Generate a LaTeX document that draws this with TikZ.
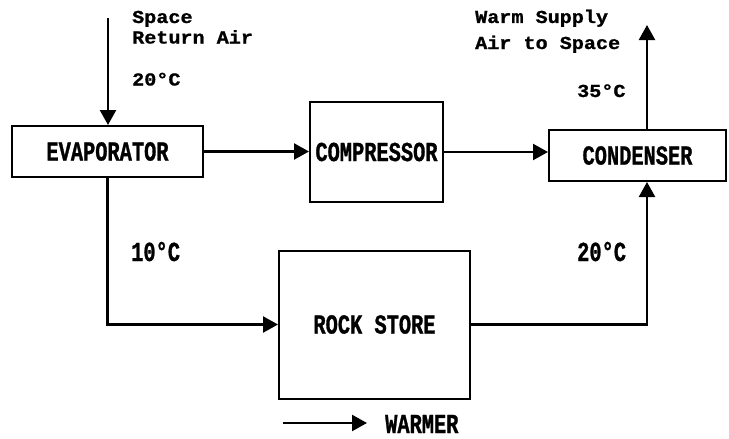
\documentclass[tikz,border=0pt]{standalone}
\usepackage{fontspec}
\usetikzlibrary{arrows.meta}
\newfontfamily\smallmono{Liberation Mono}[FakeStretch=1.1,FakeBold=1]
\newfontfamily\tallmono{Liberation Mono}[FakeStretch=0.74,FakeBold=1]

\tikzset{
  box/.style={draw, line width=2pt, inner sep=0pt,
    font=\tallmono\bfseries\fontsize{27.5}{30}\selectfont},
  note/.style={anchor=base west, inner sep=0pt,
    font=\smallmono\bfseries\fontsize{18.3}{21}\selectfont},
  tallnote/.style={anchor=base west, inner sep=0pt,
    font=\tallmono\bfseries\fontsize{27.5}{30}\selectfont},
  flow/.style={line width=2.3pt, -{Triangle[length=15pt,width=16pt]}}
}

\begin{document}
\begin{tikzpicture}[x=1pt,y=-1pt]
\useasboundingbox (0,0) rectangle (729,439);
\node[box, minimum width=191pt, minimum height=51pt] (evap) at (107.5,151.5) {EVAPORATOR};
\node[box, minimum width=133pt, minimum height=100pt] (comp) at (376.5,152) {COMPRESSOR};
\node[box, minimum width=177pt, minimum height=51pt] (cond) at (637.5,155.5) {CONDENSER};
\node[box, minimum width=191pt, minimum height=148pt] (rock) at (374.5,324.5) {ROCK STORE};
\coordinate (retin) at (108,18);
\coordinate (supply) at (647,25);
\coordinate (wtail) at (283,423);
\coordinate (wtip) at (367,423);
\draw[flow] (retin) -- (retin |- evap.north);
\draw[flow] (evap.east) -- (evap.east -| comp.west);
\draw[flow] (comp.east) -- (comp.east -| cond.west);
\draw[flow] (supply |- cond.north) -- (supply);
\draw[flow] (evap.south) |- (rock.west);
\draw[flow] (rock.east) -| (supply |- cond.south);
\draw[flow] (wtail) -- (wtip);
\node[note] (space) at (132,23) {Space};
\node[note] (retair) at (132,43.5) {Return Air};
\node[note] (tin) at (132,85.5) {20°C};
\node[note] (warm) at (475,23) {Warm Supply};
\node[note] (airsp) at (475,49) {Air to Space};
\node[note] (tout) at (577,97) {35°C};
\node[tallnote] (tcold) at (131,261) {10°C};
\node[tallnote] (twarm) at (577,261) {20°C};
\node[tallnote] (warmer) at (385,433) {WARMER};
\end{tikzpicture}
\end{document}
